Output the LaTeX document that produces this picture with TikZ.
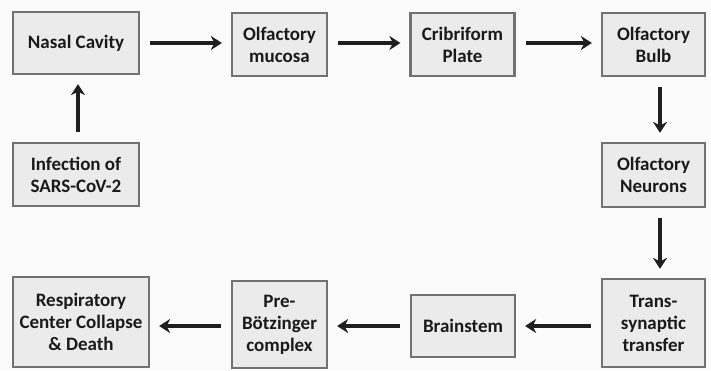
\documentclass[tikz,border=0pt]{standalone}
\usepackage{fontspec}
\setmainfont{Carlito}
\usetikzlibrary{arrows.meta}
\definecolor{boxfill}{HTML}{EBEBEB}
\definecolor{boxline}{HTML}{727272}
\definecolor{txt}{HTML}{1A1A1A}
\definecolor{bg}{HTML}{FBFBFB}
\tikzset{
  stepbox/.style={draw=boxline, line width=2.2pt, fill=boxfill, inner sep=0pt,
    align=center, text=txt, font=\fontsize{19}{22}\selectfont\bfseries},
  arr/.style={line width=3.6pt, draw=black!88,
    -{Stealth[length=11pt, width=14pt, inset=3.5pt]},
    shorten <=10pt, shorten >=9pt}
}
\begin{document}
\begin{tikzpicture}[x=1pt, y=-1pt]
\fill[bg] (0,0) rectangle (711,370);
\useasboundingbox (0,0) rectangle (711,370);
% top row
\node[stepbox, minimum width=126pt, minimum height=62pt] (nasal) at (76,43) {Nasal Cavity};
\node[stepbox, minimum width=95pt, minimum height=63pt] (muc) at (279.5,44.5) {Olfactory\\mucosa};
\node[stepbox, minimum width=104pt, minimum height=63pt] (crib) at (462.5,44.5) {Cribriform\\Plate};
\node[stepbox, minimum width=103pt, minimum height=63pt] (bulb) at (653.5,44.5) {Olfactory\\Bulb};
% middle row
\node[stepbox, minimum width=126pt, minimum height=63pt] (inf) at (76,174.5) {Infection of\\SARS-CoV-2};
\node[stepbox, minimum width=103pt, minimum height=64pt] (neur) at (653.5,175) {Olfactory\\Neurons};
% bottom row
\node[stepbox, minimum width=136pt, minimum height=90pt] (resp) at (81,322) {Respiratory\\Center Collapse\\\& Death};
\node[stepbox, minimum width=95pt, minimum height=87pt] (pre) at (279.5,324.5) {Pre-\\Bötzinger\\complex};
\node[stepbox, minimum width=104pt, minimum height=62pt] (brain) at (463,326) {Brainstem};
\node[stepbox, minimum width=103pt, minimum height=88pt] (trans) at (653.5,323) {Trans-\\synaptic\\transfer};
% arrows
\draw[arr] (nasal.east |- 0,43) -- (muc.west |- 0,43);
\draw[arr] (muc.east |- 0,43) -- (crib.west |- 0,43);
\draw[arr] (crib.east |- 0,43) -- (bulb.west |- 0,43);
\draw[arr] ([xshift=2pt]inf.north) -- ([xshift=2pt]nasal.south);
\draw[arr] ([xshift=6.5pt]bulb.south) -- ([xshift=6.5pt]neur.north);
\draw[arr] ([xshift=6.5pt]neur.south) -- ([xshift=6.5pt]trans.north);
\draw[arr] (trans.west |- brain.east) -- (brain.east);
\draw[arr] (brain.west) -- (pre.east |- brain.west);
\draw[arr] (pre.west |- brain.west) -- (resp.east |- brain.west);
\end{tikzpicture}
\end{document}
